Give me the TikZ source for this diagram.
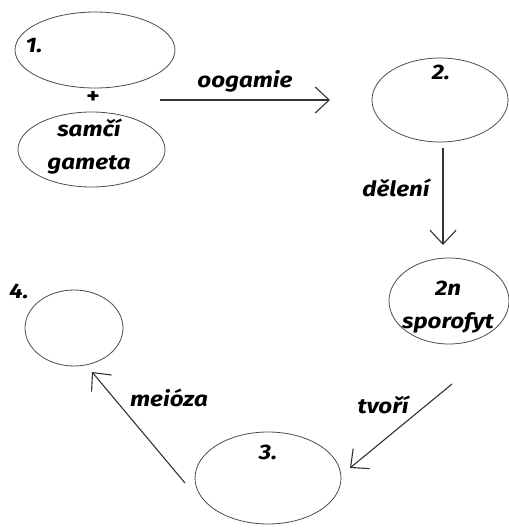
\documentclass[tikz,border=0pt]{standalone}
\usepackage{fontspec}
\setmainfont{Fira Sans}[FakeStretch=1.15]
\usetikzlibrary{arrows.meta,shapes.geometric}
\begin{document}
\begin{tikzpicture}[x=1pt,y=-1pt,
  cell/.style={draw=black!70,line width=0.8pt,ellipse,inner sep=0pt},
  lbl/.style={font=\fontsize{21}{24}\selectfont\bfseries\itshape,text=black,inner sep=0pt},
  flow/.style={draw=black!80,line width=1.1pt,-{Straight Barb[length=14pt,width=26pt,line width=1.1pt]}}
]
\useasboundingbox (0,0) rectangle (509,528);
% stages of the cycle
\node[cell,minimum width=160pt,minimum height=76pt] (e1) at (95,50) {};
\node[cell,minimum width=147pt,minimum height=75pt] (eg) at (91.5,149.5) {};
\node[cell,minimum width=136pt,minimum height=84pt] (e2) at (440,100) {};
\node[cell,minimum width=120pt,minimum height=86pt] (es) at (449,301) {};
\node[cell,minimum width=146pt,minimum height=92pt] (e3) at (268,478) {};
\node[cell,minimum width=98pt,minimum height=76pt] (e4) at (74,328) {};
% texts
\node[lbl] (t1) at (34,46) {1.};
\node[lbl,font=\fontsize{22}{22}\selectfont\bfseries] (tp) at (93,97) {+};
\node[lbl,align=center] (tg) at (89,147) {samčí\\[9pt]gameta};
\node[lbl] (t2) at (441,72) {2.};
\node[lbl,align=center] (ts) at (448,307) {2n\\[9pt]sporofyt};
\node[lbl] (t3) at (268,452) {3.};
\node[lbl] (t4) at (19,291) {4.};
% transitions
\coordinate (a1) at (160,100);
\coordinate (b1) at (330,100);
\draw[flow] (a1) -- (b1) node[lbl,midway,above=7pt] (to) {oogamie};
\coordinate (a2) at (443,148);
\coordinate (b2) at (443,245);
\draw[flow] (a2) -- (b2);
\node[lbl] (td) at (396,188) {dělení};
\coordinate (a3) at (452,384);
\coordinate (b3) at (350,468);
\draw[flow] (a3) -- (b3);
\node[lbl] (tt) at (383,405) {tvoří};
\coordinate (a4) at (185,483);
\coordinate (b4) at (92,372);
\draw[flow] (a4) -- (b4);
\node[lbl] (tm) at (169,398) {meióza};
\end{tikzpicture}
\end{document}
